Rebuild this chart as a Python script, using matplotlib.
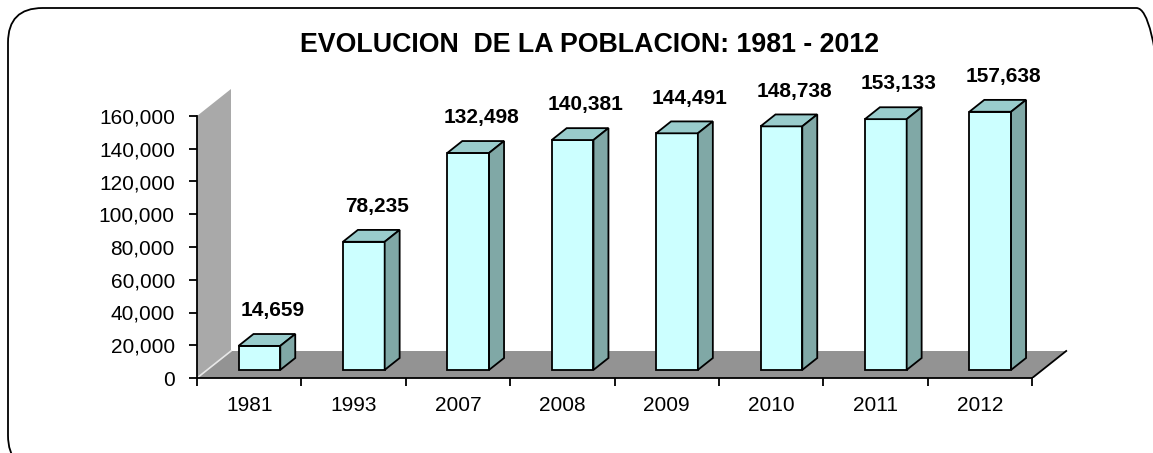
import matplotlib.pyplot as plt
from matplotlib.patches import FancyBboxPatch, Polygon
from matplotlib.ticker import FuncFormatter

plt.rcParams['font.family'] = ['Liberation Sans', 'DejaVu Sans']

years = ['1981', '1993', '2007', '2008', '2009', '2010', '2011', '2012']
poblacion = [14659, 78235, 132498, 140381, 144491, 148738, 153133, 157638]

W, H = 1153, 453
fig = plt.figure(figsize=(W / 100, H / 100), dpi=100)

# rounded frame, partly outside the picture on the right and bottom
frame = FancyBboxPatch((8 / W, 1 - 470 / H), (1171 - 8) / W, (470 - 8) / H,
                       boxstyle='round,pad=0,rounding_size=0.03',
                       transform=fig.transFigure, facecolor='none',
                       edgecolor='black', lw=1.3, mutation_aspect=W / H, zorder=-1)
fig.patches.append(frame)

# axes geometry in pixels
x0_px, y0_px = 197, 378
cat_px = 104.4
val_px = 262 / 160000
right_px, top_px = 1080, 55
ax = fig.add_axes([x0_px / W, (H - y0_px) / H, (right_px - x0_px) / W, (y0_px - top_px) / H])
ax.set_xlim(0, (right_px - x0_px) / cat_px)
ax.set_ylim(0, (y0_px - top_px) / val_px)
ax.patch.set_alpha(0)

# depth vector (full floor depth)
dx = 34 / cat_px
dy = 27 / val_px
f0, f1 = 0.30, 0.74
n = len(years)

# left wall and floor
wall = Polygon([(0, 0), (dx, dy), (dx, 160000 + dy), (0, 160000)],
               closed=True, facecolor='#a9a9a9', edgecolor='none', zorder=1)
ax.add_patch(wall)
floor = Polygon([(0, 0), (n, 0), (n + dx, dy), (dx, dy)],
                closed=True, facecolor='#939393', edgecolor='none', zorder=1)
ax.add_patch(floor)
ax.plot([0, dx], [0, dy], color='#e8e8e8', lw=1.2, zorder=2)
ax.plot([n, n + dx], [0, dy], color='black', lw=1.3, zorder=2)

# bars
bw = 0.40
ox, oy = f0 * dx, f0 * dy
sdx, sdy = (f1 - f0) * dx, (f1 - f0) * dy
for i, v in enumerate(poblacion):
    xl = i + 0.5 - bw / 2 + ox
    xr = xl + bw
    bot = oy
    top = v + oy
    ax.bar(xl, v, width=bw, bottom=bot, align='edge', facecolor='#ccffff',
           edgecolor='black', lw=1.3, zorder=3)
    ax.add_patch(Polygon([(xl, top), (xr, top), (xr + sdx, top + sdy), (xl + sdx, top + sdy)],
                         closed=True, facecolor='#99cccc', edgecolor='black', lw=1.3, zorder=3))
    ax.add_patch(Polygon([(xr, bot), (xr + sdx, bot + sdy), (xr + sdx, top + sdy), (xr, top)],
                         closed=True, facecolor='#80a8a6', edgecolor='black', lw=1.3, zorder=3))
    ax.text(i + 0.5 + ox + 0.125, top + 21500, f'{v:,}', ha='center', va='center',
            fontsize=15, fontweight='bold', zorder=4)

# axes lines and ticks
for s in ['top', 'right']:
    ax.spines[s].set_visible(False)
ax.spines['left'].set_bounds(0, 160000)
ax.spines['bottom'].set_bounds(0, n)
for s in ['left', 'bottom']:
    ax.spines[s].set_linewidth(1.3)
    ax.spines[s].set_zorder(5)
ax.set_yticks(range(0, 160001, 20000))
ax.yaxis.set_major_formatter(FuncFormatter(lambda v, p: f'{int(v):,}'))
ax.set_xticks(range(n + 1))
ax.set_xticklabels([])
ax.set_xticks([i + 0.5 for i in range(n)], minor=True)
ax.set_xticklabels(years, minor=True)
ax.tick_params(axis='both', which='major', direction='out', length=6, width=1.3, labelsize=15)
ax.tick_params(axis='x', which='minor', length=0, labelsize=15, pad=13)
ax.tick_params(axis='y', pad=10)

fig.text(590 / W, 1 - 45 / H, 'EVOLUCION  DE LA POBLACION: 1981 - 2012',
         ha='center', va='center', fontsize=19.3, fontweight='bold')

fig.savefig('out.png', dpi=100)
